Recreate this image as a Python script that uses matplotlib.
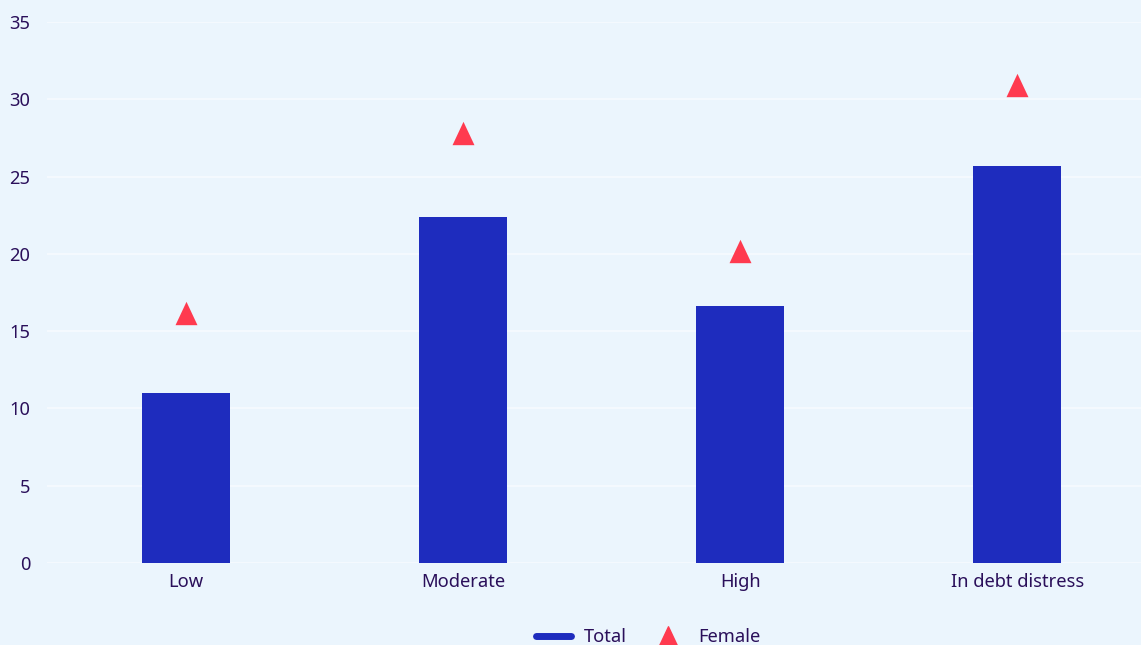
import matplotlib.pyplot as plt
from matplotlib.lines import Line2D
import numpy as np

categories = ['Low', 'Moderate', 'High', 'In debt distress']
total = [11.0, 22.4, 16.6, 25.7]
female = [16.2, 27.8, 20.2, 30.9]
yticks = [0, 5, 10, 15, 20, 25, 30, 35]

bg = '#EBF5FD'
bar_col = '#1E2CBE'
tri_col = '#FF3A4F'
txt_col = '#2A0F5A'

plt.rcParams['font.family'] = ['Noto Sans', 'DejaVu Sans']

tri = [(-0.94, -1), (0.94, -1), (0, 1), (-0.94, -1)]

fig = plt.figure(figsize=(11.41, 6.45), dpi=100, facecolor=bg)
ax = fig.add_axes([47 / 1141, (645 - 563) / 645, 1109 / 1141, 541 / 645])
ax.set_facecolor(bg)

x = np.arange(len(categories))
ax.bar(x, total, width=0.317, color=bar_col, zorder=2)
ax.scatter(x, female, marker=tri, s=283, color=tri_col, zorder=3, linewidths=0)

ax.set_xlim(-0.5, 3.5)
ax.set_ylim(0, 35)
ax.set_yticks(yticks)
ax.set_xticks(x)
ax.set_xticklabels(categories)
ax.grid(axis='y', color='#F7FBFF', linewidth=1.2, zorder=1)
ax.set_axisbelow(True)
for s in ax.spines.values():
    s.set_visible(False)
ax.tick_params(axis='both', length=0, labelsize=13.2, colors=txt_col)
ax.tick_params(axis='y', pad=12)
ax.tick_params(axis='x', pad=7)

handles = [Line2D([0], [0], color=bar_col, lw=5, solid_capstyle='round'),
           Line2D([0], [0], marker=tri, color=tri_col, linestyle='none', markersize=14)]
fig.legend(handles, ['Total', 'Female'], loc='center', bbox_to_anchor=(648 / 1141, 1 - 637 / 645),
           ncol=2, frameon=False, fontsize=13.2, labelcolor=txt_col, handlelength=1.9,
           handletextpad=0.7, columnspacing=1.3)

fig.savefig('out.png', dpi=100, facecolor=bg)
